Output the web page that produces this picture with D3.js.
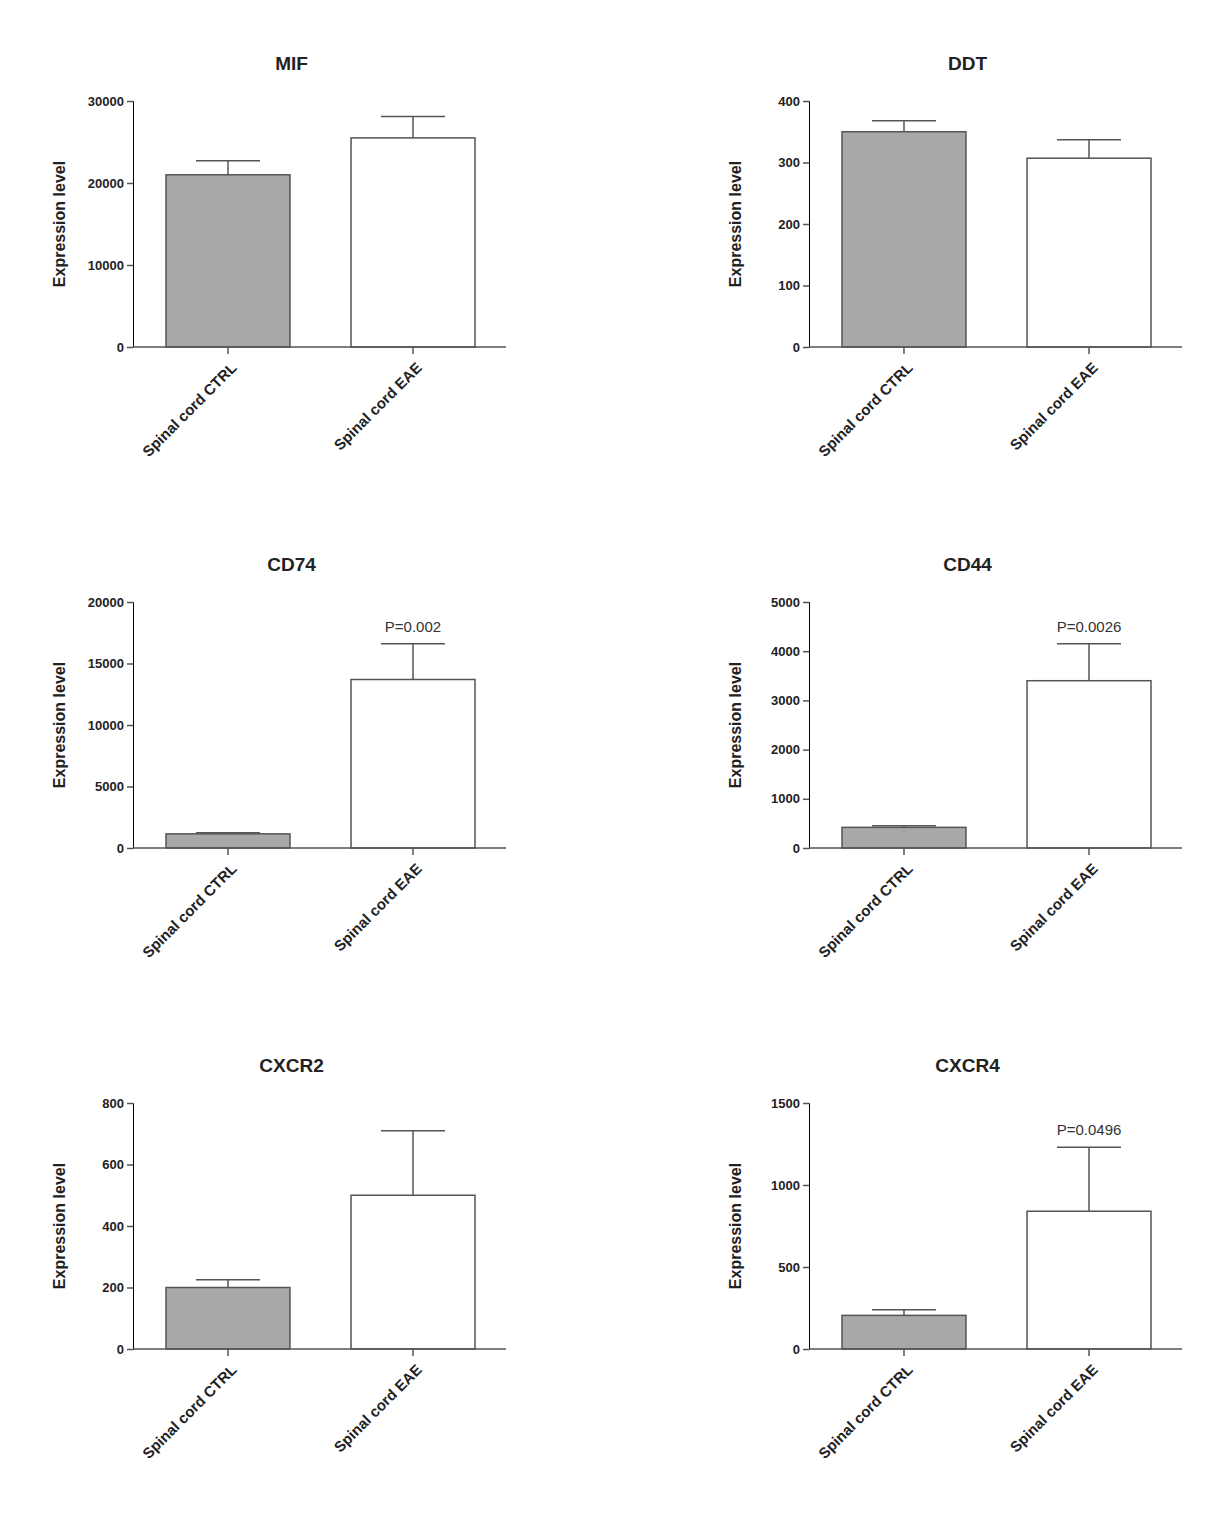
<!DOCTYPE html>
<html><head><meta charset="utf-8">
<script src="https://cdn.jsdelivr.net/npm/d3@7"></script>
<style>body{margin:0;background:#fff;font-family:"Liberation Sans",Arial,sans-serif}</style>
</head><body><div id="chart"></div>
<script>
// Data
const groups = ["Spinal cord CTRL", "Spinal cord EAE"];
const genes = ["MIF", "DDT", "CD74", "CD44", "CXCR2", "CXCR4"];
const means = [[21000, 25500], [350, 307], [1150, 13700], [420, 3400], [200, 500], [205, 840]];
const errs = [[1700, 2600], [18, 30], [100, 2900], [30, 750], [25, 210], [35, 390]];
const yMax = [30000, 400, 20000, 5000, 800, 1500];
const yTicks = [[0, 10000, 20000, 30000], [0, 100, 200, 300, 400], [0, 5000, 10000, 15000, 20000],
  [0, 1000, 2000, 3000, 4000, 5000], [0, 200, 400, 600, 800], [0, 500, 1000, 1500]];
const pvals = [null, null, "P=0.002", "P=0.0026", null, "P=0.0496"];
const fills = ["#a8a8a8", "#ffffff"];

const svg = d3.select("#chart").append("svg").attr("width", 1218).attr("height", 1522);
const lineC = "#555";

genes.forEach((g, i) => {
  const col = i % 2, row = Math.floor(i / 2);
  const x0 = col ? 809 : 133, x1 = x0 + 373;
  const yTop = 101 + row * 501, yBot = yTop + 246;
  const gr = svg.append("g");

  const x = d3.scaleBand().domain(groups).range([x0 + 33, x0 + 342]).paddingInner(0.33).paddingOuter(0);
  const y = d3.scaleLinear().domain([0, yMax[i]]).range([yBot, yTop]);

  // bars
  gr.selectAll("rect").data(groups).join("rect")
    .attr("x", d => x(d)).attr("width", x.bandwidth())
    .attr("y", (d, j) => y(means[i][j])).attr("height", (d, j) => y(0) - y(means[i][j]))
    .attr("fill", (d, j) => fills[j]).attr("stroke", lineC).attr("stroke-width", 1.5);

  // error bars (upper only)
  groups.forEach((d, j) => {
    const cx = x(d) + x.bandwidth() / 2, top = y(means[i][j] + errs[i][j]);
    gr.append("line").attr("x1", cx).attr("x2", cx).attr("y1", y(means[i][j])).attr("y2", top);
    gr.append("line").attr("x1", cx - 32).attr("x2", cx + 32).attr("y1", top).attr("y2", top);
    if (j === 1 && pvals[i]) {
      gr.append("text").attr("x", cx).attr("y", top - 12).attr("text-anchor", "middle")
        .style("font-size", "15px").attr("fill", "#333").text(pvals[i]);
    }
  });

  // axes
  const ya = gr.append("g").attr("transform", `translate(${x0},0)`)
    .call(d3.axisLeft(y).tickValues(yTicks[i]).tickFormat(d3.format("d")).tickSizeOuter(0).tickSize(6));
  ya.selectAll("text").style("font-size", "13px").style("font-weight", "bold").attr("fill", "#222");
  const xa = gr.append("g").attr("transform", `translate(0,${yBot})`)
    .call(d3.axisBottom(x).tickSizeOuter(0).tickSize(7));
  xa.select(".domain").remove();
  gr.append("line").attr("x1", x0).attr("x2", x1).attr("y1", yBot).attr("y2", yBot);
  xa.selectAll("text").attr("transform", "translate(6,18) rotate(-45)").style("text-anchor", "end")
    .attr("dy", "0.35em").attr("y", 0).style("font-size", "15px").style("font-weight", "bold").attr("fill", "#222");
  gr.selectAll("line").attr("stroke", lineC).attr("stroke-width", 1.5);

  // labels
  gr.append("text").attr("x", (x0 + x1) / 2 - 28).attr("y", yTop - 31).attr("text-anchor", "middle")
    .style("font-size", "19px").style("font-weight", "bold").attr("fill", "#222").text(g);
  gr.append("text").attr("transform", `translate(${x0 - 68},${(yTop + yBot) / 2}) rotate(-90)`)
    .attr("text-anchor", "middle").style("font-size", "16px").style("font-weight", "bold")
    .attr("fill", "#222").text("Expression level");
});
</script></body></html>
